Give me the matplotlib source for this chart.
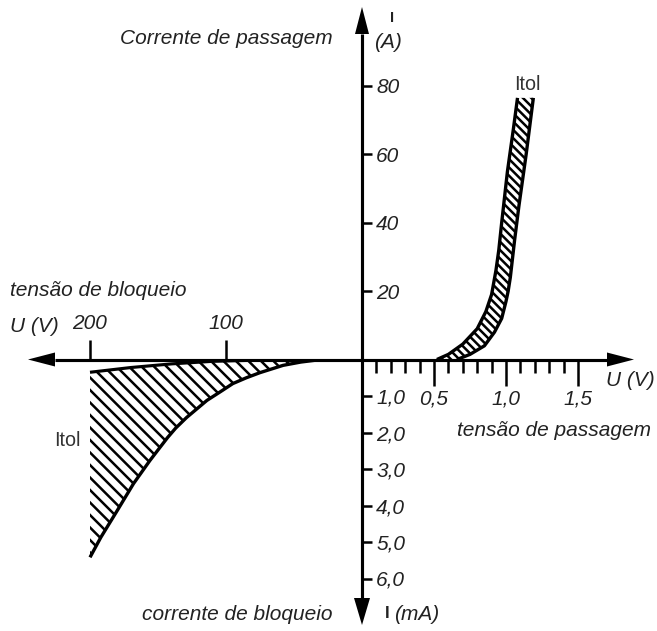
import matplotlib
matplotlib.use("Agg")
import matplotlib.pyplot as plt
from matplotlib.patches import Polygon
from matplotlib.ticker import FixedLocator, FixedFormatter

# ---- forward characteristic (tensão de passagem): tolerance band, U in V, I in A
fwd_low_U = [0.52, 0.60, 0.70, 0.80, 0.86, 0.88, 0.90, 0.93, 0.95, 0.97, 1.01, 1.05, 1.08]
fwd_low_I = [0.0, 1.5, 4.5, 9.0, 14.0, 16.5, 19.0, 26.0, 32.0, 40.0, 55.0, 67.0, 76.5]
fwd_high_U = [0.66, 0.75, 0.85, 0.92, 0.97, 0.985, 1.00, 1.015, 1.03, 1.06, 1.09, 1.14, 1.19]
fwd_high_I = [0.0, 1.5, 4.0, 8.0, 12.0, 14.5, 17.0, 20.0, 24.0, 35.0, 45.0, 60.0, 76.5]

# ---- reverse characteristic (tensão de bloqueio): U in V, I in mA
rev_up_U = [200, 170, 140, 110, 80, 50, 30]
rev_up_I = [0.35, 0.22, 0.12, 0.05, 0.02, 0.005, 0.0]
rev_low_U = [200, 192, 180, 168, 156, 149, 143, 137, 129, 114, 104, 95, 85, 75, 58, 45, 30]
rev_low_I = [5.42, 4.87, 4.14, 3.40, 2.77, 2.43, 2.14, 1.88, 1.59, 1.12, 0.88, 0.66, 0.50,
             0.36, 0.16, 0.07, 0.0]

# ---- scales and tick labels
fwd_U_major = [0.5, 1.0, 1.5]
fwd_U_major_labels = ["0,5", "1,0", "1,5"]
fwd_U_minor = [0.1, 0.2, 0.3, 0.4, 0.6, 0.7, 0.8, 0.9, 1.1, 1.2, 1.3, 1.4]
fwd_I_ticks = [20, 40, 60, 80]
fwd_I_labels = ["20", "40", "60", "80"]
rev_U_ticks = [100, 200]
rev_U_labels = ["100", "200"]
rev_I_ticks = [1, 2, 3, 4, 5, 6]
rev_I_labels = ["1,0", "2,0", "3,0", "4,0", "5,0", "6,0"]

plt.rcParams["font.family"] = ["Liberation Sans", "DejaVu Sans"]
plt.rcParams["font.style"] = "italic"
plt.rcParams["font.size"] = 10
plt.rcParams["hatch.linewidth"] = 1.2

W, H, DPI = 657, 631, 150
fig = plt.figure(figsize=(W / DPI, H / DPI), dpi=DPI)

# origin of the diagram in figure pixels and pixel-per-unit scales
OX, OY = 362, 359.5
PX_V, PX_A = 144.0, 3.42      # forward quadrant
PX_VR, PX_MA = 1.36, 36.5     # reverse quadrant

LW_AX = 1.5
TICK_W = 1.2

# forward quadrant (upper right)
ax_f = fig.add_axes([OX / W, (H - OY) / H, (W - OX) / W, OY / H])
ax_f.set_xlim(0, (W - OX) / PX_V)
ax_f.set_ylim(0, OY / PX_A)

# reverse quadrant (lower left), voltage grows to the left, current downward
ax_r = fig.add_axes([0, 0, OX / W, (H - OY) / H])
ax_r.set_xlim(OX / PX_VR, 0)
ax_r.set_ylim((H - OY) / PX_MA, 0)

for ax in (ax_f, ax_r):
    ax.patch.set_visible(False)
    for s in ax.spines.values():
        s.set_visible(False)

# forward ticks
ax_f.xaxis.set_ticks_position("bottom")
ax_f.xaxis.set_major_locator(FixedLocator(fwd_U_major))
ax_f.xaxis.set_major_formatter(FixedFormatter(fwd_U_major_labels))
ax_f.xaxis.set_minor_locator(FixedLocator(fwd_U_minor))
ax_f.tick_params(axis="x", which="major", direction="out", length=12.5,
                 width=TICK_W, pad=2.0, labelsize=10)
ax_f.tick_params(axis="x", which="minor", direction="out", length=6.2, width=TICK_W)
ax_f.spines["right"].set_position(("data", 0))
ax_f.yaxis.set_ticks_position("right")
ax_f.yaxis.set_major_locator(FixedLocator(fwd_I_ticks))
ax_f.yaxis.set_major_formatter(FixedFormatter(fwd_I_labels))
ax_f.tick_params(axis="y", which="major", direction="out", length=4.8,
                 width=TICK_W, pad=2.0, labelsize=10)

# reverse ticks
ax_r.xaxis.set_ticks_position("top")
ax_r.xaxis.set_major_locator(FixedLocator(rev_U_ticks))
ax_r.xaxis.set_major_formatter(FixedFormatter(rev_U_labels))
ax_r.tick_params(axis="x", which="major", direction="out", length=9.6,
                 width=TICK_W, pad=3.0, labelsize=10)
ax_r.yaxis.set_ticks_position("right")
ax_r.yaxis.set_major_locator(FixedLocator(rev_I_ticks))
ax_r.yaxis.set_major_formatter(FixedFormatter(rev_I_labels))
ax_r.tick_params(axis="y", which="major", direction="out", length=4.8,
                 width=TICK_W, pad=2.0, labelsize=10)

# forward tolerance band
ax_f.fill(fwd_low_U + fwd_high_U[::-1], fwd_low_I + fwd_high_I[::-1],
          facecolor="none", edgecolor="black", linewidth=0, hatch="\\" * 6)
ax_f.plot(fwd_low_U, fwd_low_I, color="black", lw=1.6, solid_capstyle="butt",
          solid_joinstyle="round")
ax_f.plot(fwd_high_U, fwd_high_I, color="black", lw=1.6, solid_capstyle="butt",
          solid_joinstyle="round")

# reverse tolerance region
ax_r.fill(rev_up_U + rev_low_U[::-1], rev_up_I + rev_low_I[::-1],
          facecolor="none", edgecolor="black", linewidth=0, hatch="\\" * 4)
ax_r.plot(rev_up_U, rev_up_I, color="black", lw=1.5, solid_capstyle="butt",
          solid_joinstyle="round")
ax_r.plot(rev_low_U, rev_low_I, color="black", lw=1.6, solid_capstyle="butt",
          solid_joinstyle="round")

# overlay in figure pixels for the axis arrows and captions
ax_o = fig.add_axes([0, 0, 1, 1])
ax_o.set_xlim(0, W)
ax_o.set_ylim(H, 0)
ax_o.axis("off")
ax_o.patch.set_visible(False)

AH_L, AH_W = 27, 7
# horizontal axis
ax_o.plot([28 + AH_L, 634 - AH_L], [OY, OY], color="black", lw=LW_AX, solid_capstyle="butt")
ax_o.add_patch(Polygon([[28, OY], [28 + AH_L, OY - AH_W], [28 + AH_L, OY + AH_W]],
                       closed=True, color="black", lw=0))
ax_o.add_patch(Polygon([[634, OY], [634 - AH_L, OY - AH_W], [634 - AH_L, OY + AH_W]],
                       closed=True, color="black", lw=0))
# vertical axis
ax_o.plot([OX, OX], [7 + AH_L, 625 - AH_L], color="black", lw=LW_AX, solid_capstyle="butt")
ax_o.add_patch(Polygon([[OX, 7], [OX - AH_W, 7 + AH_L], [OX + AH_W, 7 + AH_L]],
                       closed=True, color="black", lw=0))
ax_o.add_patch(Polygon([[OX, 625], [OX - AH_W - 1, 625 - AH_L], [OX + AH_W + 1, 625 - AH_L]],
                       closed=True, color="black", lw=0))

txt = dict(color="#222222", fontsize=10, va="center")
ax_o.text(333, 38, "Corrente de passagem", ha="right", **txt)
ax_o.text(392, 18, "I", ha="center", fontweight="bold", fontstyle="normal",
          color="#222222", fontsize=7, va="center")
ax_o.text(388, 42, "(A)", ha="center", **txt)
ax_o.text(10, 290, "tensão de bloqueio", ha="left", **txt)
ax_o.text(10, 326, "U (V)", ha="left", **txt)
ax_o.text(630, 381, "U (V)", ha="center", **txt)
ax_o.text(457, 430, "tensão de passagem", ha="left", **txt)
ax_o.text(333, 614, "corrente de bloqueio", ha="right", **txt)
ax_o.text(387, 614, "I", ha="center", fontweight="bold", fontstyle="normal",
          color="#222222", fontsize=8, va="center")
ax_o.text(394, 614, "(mA)", ha="left", **txt)
ax_o.text(527, 85, "Itol", ha="center", va="center", fontstyle="normal",
          color="#333333", fontsize=9.5)
ax_o.text(67, 441, "Itol", ha="center", va="center", fontstyle="normal",
          color="#333333", fontsize=9.5)

for ax in (ax_f, ax_r):
    for lab in ax.get_xticklabels() + ax.get_yticklabels():
        lab.set_color("#222222")

fig.savefig("out.png", dpi=DPI)
